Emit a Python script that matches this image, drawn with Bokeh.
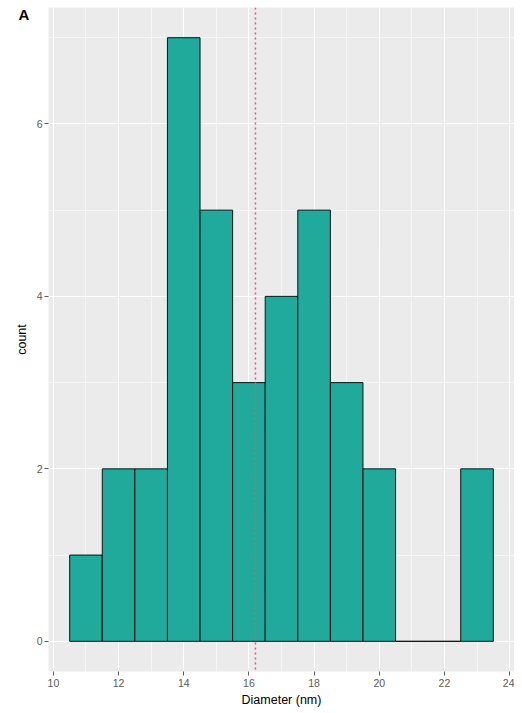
from bokeh.plotting import figure
from bokeh.models import Range1d, FixedTicker, Span, Title
from bokeh.embed import file_html
from bokeh.resources import INLINE

# Data (bin width 1 nm, centred on integers)
bin_centers = [11, 12, 13, 14, 15, 16, 17, 18, 19, 20, 21, 22, 23]
counts = [1, 2, 2, 7, 5, 3, 4, 5, 3, 2, 0, 0, 2]
mean_diameter = 16.2
x_ticks = [10, 12, 14, 16, 18, 20, 22, 24]
y_ticks = [0, 2, 4, 6]
x_minor = [11, 13, 15, 17, 19, 21, 23]
y_minor = [1, 3, 5, 7]

bin_width = 1.0
lefts = [c - bin_width / 2 for c in bin_centers]
rights = [c + bin_width / 2 for c in bin_centers]
bottoms = [0] * len(counts)

p = figure(
    output_backend="svg", toolbar_location=None,
    frame_width=466, frame_height=664,
    x_range=Range1d(9.85, 24.15), y_range=Range1d(-0.35, 7.35),
    min_border_left=48, min_border_right=0, min_border_top=7, min_border_bottom=4,
    background_fill_color="#EBEBEB", border_fill_color="white",
    outline_line_color=None,
)

# grid
p.xgrid.ticker = FixedTicker(ticks=x_ticks, minor_ticks=x_minor)
p.ygrid.ticker = FixedTicker(ticks=y_ticks, minor_ticks=y_minor)
for g in (p.xgrid[0], p.ygrid[0]):
    g.grid_line_color = "white"
    g.grid_line_width = 1.1
    g.minor_grid_line_color = "white"
    g.minor_grid_line_width = 0.55

p.quad(left=lefts, right=rights, bottom=bottoms, top=counts,
       fill_color="#1FAA9B", line_color="#111111", line_width=1.0)

p.add_layout(Span(location=mean_diameter, dimension="height",
                  line_color="#F2506E", line_dash="2 3", line_width=1.5))

# axes
for ax, ticks in ((p.xaxis[0], x_ticks), (p.yaxis[0], y_ticks)):
    ax.ticker = FixedTicker(ticks=ticks)
    ax.axis_line_color = None
    ax.major_tick_line_color = "#333333"
    ax.major_tick_line_width = 0.8
    ax.major_tick_in = 0
    ax.major_tick_out = 4
    ax.minor_tick_line_color = None
    ax.major_label_text_font = "Liberation Sans"
    ax.major_label_text_font_size = "10.5px"
    ax.major_label_text_color = "#5a5a5a"
    ax.axis_label_text_font = "Liberation Sans"
    ax.axis_label_text_font_size = "12.5px"
    ax.axis_label_text_font_style = "normal"
    ax.axis_label_text_color = "black"

p.xaxis.axis_label = "Diameter (nm)"
p.xaxis.major_label_standoff = 3
p.xaxis.axis_label_standoff = 3
p.yaxis.axis_label = "count"
p.yaxis.major_label_standoff = 2
p.yaxis.axis_label_standoff = 5

panel_tag = Title(text="A", align="left", offset=-30, standoff=-31,
                  text_font="Liberation Sans", text_font_style="bold",
                  text_font_size="15px", text_color="black")
p.add_layout(panel_tag, "above")

open("out.html", "w").write(file_html(p, INLINE))
